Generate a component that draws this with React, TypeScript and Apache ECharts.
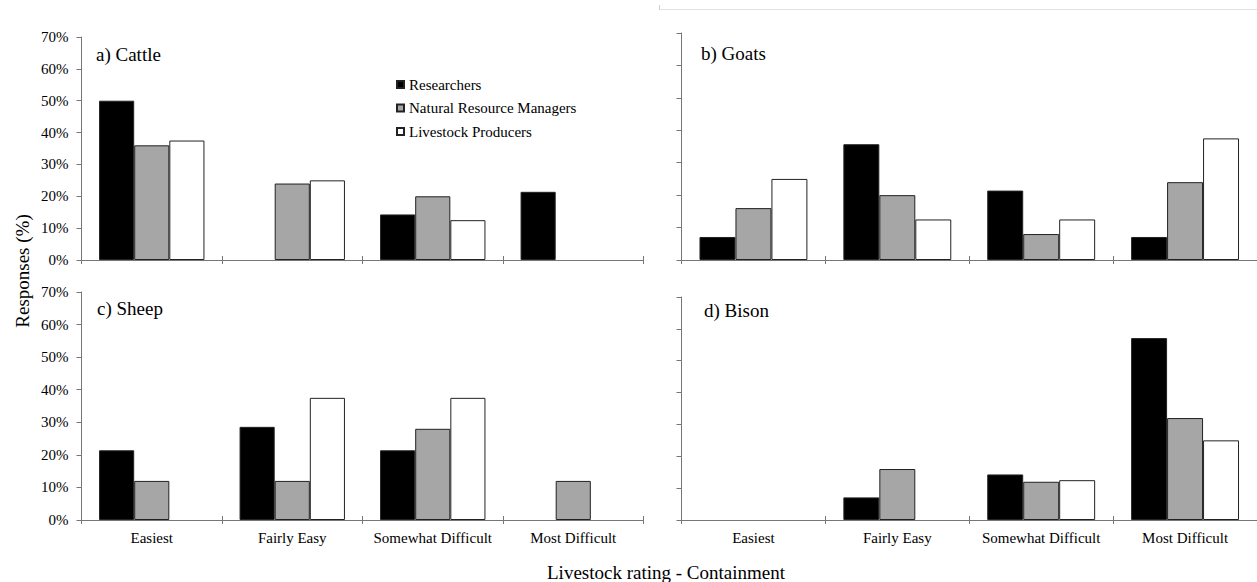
import React, { useEffect, useRef } from "react";
import * as echarts from "echarts";

const categories = ["Easiest", "Fairly Easy", "Somewhat Difficult", "Most Difficult"];
const groupNames = ["Researchers", "Natural Resource Managers", "Livestock Producers"];
const yTicks = [0, 10, 20, 30, 40, 50, 60, 70];

// a) Cattle
const cattleResearchers = [50, 0, 14.3, 21.4];
const cattleManagers = [36, 24, 20, 0];
const cattleProducers = [37.5, 25, 12.5, 0];
// b) Goats
const goatsResearchers = [7.1, 35.7, 21.4, 7.1];
const goatsManagers = [16, 20, 8, 24];
const goatsProducers = [25, 12.5, 12.5, 37.5];
// c) Sheep
const sheepResearchers = [21.4, 28.6, 21.4, 0];
const sheepManagers = [12, 12, 28, 12];
const sheepProducers = [0, 37.5, 37.5, 0];
// d) Bison
const bisonResearchers = [0, 7.1, 14.3, 57.1];
const bisonManagers = [0, 16, 12, 32];
const bisonProducers = [0, 0, 12.5, 25];

const panelLabels = ["a) Cattle", "b) Goats", "c) Sheep", "d) Bison"];
const xTitle = "Livestock rating - Containment";
const yTitle = "Responses (%)";

const FONT = "Liberation Serif";
const fills = ["#000000", "#a6a6a6", "#ffffff"];
const AXIS = "#777777";

export default function App() {
  const ref = useRef<HTMLDivElement>(null);
  useEffect(() => {
    if (!ref.current) return;
    const chart = echarts.init(ref.current, null, { renderer: "svg" });
    const panels = [
      [cattleResearchers, cattleManagers, cattleProducers],
      [goatsResearchers, goatsManagers, goatsProducers],
      [sheepResearchers, sheepManagers, sheepProducers],
      [bisonResearchers, bisonManagers, bisonProducers],
    ];
    const grids = [
      { left: 81.5, top: 37, width: 562, height: 223 },
      { left: 681.5, top: 33, width: 576, height: 227 },
      { left: 81.5, top: 292, width: 562, height: 228 },
      { left: 681.5, top: 297, width: 576, height: 223 },
    ];
    const xAxes: any[] = [];
    const yAxes: any[] = [];
    const series: any[] = [];
    grids.forEach((g, i) => {
      const showX = i >= 2;
      const showY = i % 2 === 0;
      xAxes.push({
        type: "category",
        gridIndex: i,
        data: categories,
        axisLine: { lineStyle: { color: AXIS, width: 1 } },
        axisTick: { show: true, length: 4, lineStyle: { color: AXIS } },
        axisLabel: {
          show: showX,
          interval: 0,
          color: "#000",
          fontFamily: FONT,
          fontSize: 15,
          margin: 10,
        },
      });
      yAxes.push({
        type: "value",
        gridIndex: i,
        min: 0,
        max: 70,
        interval: 10,
        axisLine: { show: true, lineStyle: { color: AXIS, width: 1 } },
        axisTick: { show: true, length: 5, lineStyle: { color: AXIS } },
        splitLine: { show: false },
        axisLabel: {
          show: showY,
          color: "#000",
          fontFamily: FONT,
          fontSize: 15,
          margin: 13,
          formatter: (v: number) => (yTicks.includes(v) ? v + "%" : ""),
        },
      });
    });
    // second x axes for inward half of category ticks
    grids.forEach((g, i) => {
      xAxes.push({
        type: "category",
        gridIndex: i,
        data: categories,
        position: "bottom",
        axisLine: { show: false },
        axisTick: { show: true, inside: true, length: 4, lineStyle: { color: AXIS } },
        axisLabel: { show: false },
      });
    });
    panels.forEach((vals, i) => {
      vals.forEach((arr, k) => {
        series.push({
          type: "bar",
          name: groupNames[k],
          xAxisIndex: i,
          yAxisIndex: i,
          data: arr.map((v) => (v === 0 ? "-" : v)),
          barGap: "0%",
          barCategoryGap: "25%",
          itemStyle: { color: fills[k], borderColor: "#222", borderWidth: 1 },
          emphasis: { disabled: true },
        });
      });
    });
    const labelPos = [
      [96, 54],
      [701, 53],
      [97, 308],
      [704, 310],
    ];
    const graphic: any[] = panelLabels.map((t, i) => ({
      type: "text",
      x: labelPos[i][0],
      y: labelPos[i][1],
      style: {
        text: t,
        fill: "#000",
        fontFamily: FONT,
        fontSize: 19,
        textAlign: "left",
        textVerticalAlign: "middle",
      },
    }));
    graphic.push({
      type: "text",
      x: 666,
      y: 572,
      style: { text: xTitle, fill: "#000", fontFamily: FONT, fontSize: 19, textAlign: "center", textVerticalAlign: "middle" },
    });
    graphic.push({
      type: "text",
      x: 22,
      y: 271,
      rotation: Math.PI / 2,
      style: { text: yTitle, fill: "#000", fontFamily: FONT, fontSize: 19, textAlign: "center", textVerticalAlign: "middle" },
    });
    graphic.push({
      type: "line",
      shape: { x1: 659, y1: 9.5, x2: 1257, y2: 9.5 },
      style: { stroke: "#e2e2e2", lineWidth: 1 },
    });
    graphic.push({
      type: "line",
      shape: { x1: 659.5, y1: 5, x2: 659.5, y2: 9.5 },
      style: { stroke: "#cfcfcf", lineWidth: 1 },
    });
    chart.setOption({
      animation: false,
      backgroundColor: "#ffffff",
      textStyle: { fontFamily: FONT },
      grid: grids,
      xAxis: xAxes,
      yAxis: yAxes,
      series,
      legend: {
        data: groupNames,
        orient: "vertical",
        left: 391,
        top: 72,
        icon: "rect",
        itemWidth: 7,
        itemHeight: 7,
        itemGap: 8.5,
        selectedMode: false,
        textStyle: { fontFamily: FONT, fontSize: 15, color: "#000" },
      },
      graphic,
    });
    return () => chart.dispose();
  }, []);
  return <div ref={ref} style={{ width: 1257, height: 582, position: "absolute", left: 0, top: 0 }} />;
}
